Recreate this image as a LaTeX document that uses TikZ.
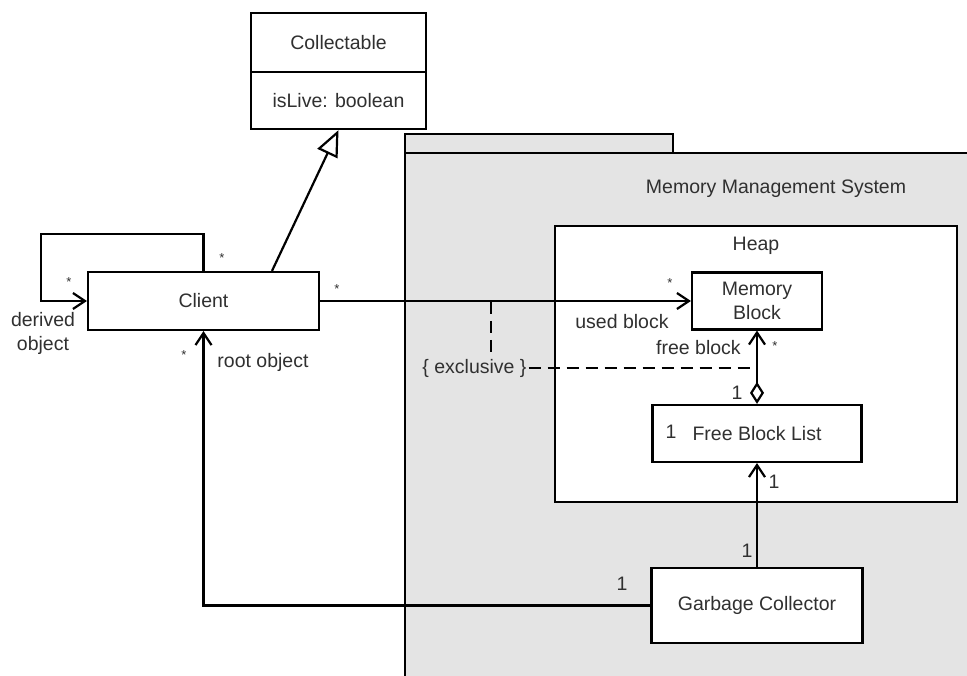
\documentclass[tikz,border=0pt]{standalone}
\usepackage{fontspec}
\setmainfont{Liberation Sans}
\usetikzlibrary{arrows.meta}
\definecolor{pkggray}{HTML}{E4E4E4}
\definecolor{txtgray}{HTML}{303030}
\begin{document}
\begin{tikzpicture}[x=1pt,y=-1pt,line width=2.2pt,
  font=\fontsize{19.5}{24}\selectfont,
  cls/.style={draw, fill=white, inner sep=0pt, text=txtgray},
  lbl/.style={inner sep=1pt, text=txtgray},
  star/.style={inner sep=1pt, text=txtgray, font=\fontsize{13}{15}\selectfont},
  nav/.style={-{Straight Barb[length=12pt,width=16pt]}},
  constr/.style={line width=1.6pt, dash pattern=on 12pt off 7pt}]
\useasboundingbox (0,0) rectangle (967,676);
\clip (0,0) rectangle (967,676);
% package frame
\draw[fill=pkggray] (405,153) rectangle (673,134);
\draw[fill=pkggray] (405,700) -- (405,153) -- (990,153) -- (990,700);
\node[lbl] (mms) at (776,189) {Memory Management System};
% heap
\node[cls, minimum width=402pt, minimum height=276pt] (hp) at (756,364) {};
\node[lbl] (hpl) at (756,246) {Heap};
% classes
\node[cls, minimum width=175pt, minimum height=59pt] (col) at (338.5,42.5) {Collectable};
\node[cls, minimum width=175pt, minimum height=57pt] (att) at (338.5,100.5) {isLive: boolean};
\node[cls, minimum width=231pt, minimum height=58pt] (cl) at (203.5,301) {Client};
\node[cls, minimum width=130pt, minimum height=57pt, align=center] (mb) at (757,301) {Memory\\Block};
\node[cls, minimum width=209pt, minimum height=57pt] (fbl) at (757,433.5) {Free Block List};
\node[cls, minimum width=211pt, minimum height=75pt] (gc) at (757,605.5) {Garbage Collector};
% connectors
\draw[-{Triangle[open,length=26pt,width=22pt,fill=white]}] ([xshift=68.5pt]cl.north) -- (att.south);
\coordinate (lp) at (41,234);
\draw[nav] (cl.north) |- (lp) |- (cl.west);
\draw[nav] (cl.east) -- (mb.west);
\draw[nav] (gc.west) -| (cl.south);
\draw[nav] (gc.north) -- (fbl.south);
\draw[{Diamond[open,length=22pt,width=14pt,fill=white]}-{Straight Barb[length=12pt,width=16pt]}] (fbl.north) -- (mb.south);
% constraint
\node[lbl] (ex) at (474.5,368) {\{ exclusive \}};
\coordinate (exa) at (491,302);
\draw[constr] (exa) -- (exa |- ex.north);
\draw[constr] (ex.east) -- (ex.east -| mb.south);
% roles and multiplicities
\node[star] (s1) at (222,258) {*};
\node[star] (s2) at (69,282) {*};
\node[lbl, align=center] (dob) at (43,333) {derived\\object};
\node[star] (s3) at (184,355) {*};
\node[lbl] (rob) at (263,362) {root object};
\node[star] (s4) at (337,289) {*};
\node[star] (s5) at (670,283) {*};
\node[lbl] (ub) at (622,322) {used block};
\node[lbl] (fb) at (698.5,348) {free block};
\node[star] (s6) at (775,346) {*};
\node[lbl] (n1) at (737,393) {1};
\node[lbl] (n2) at (671,432) {1};
\node[lbl] (n3) at (774,482) {1};
\node[lbl] (n4) at (747,551) {1};
\node[lbl] (n5) at (622,584) {1};
\end{tikzpicture}
\end{document}
